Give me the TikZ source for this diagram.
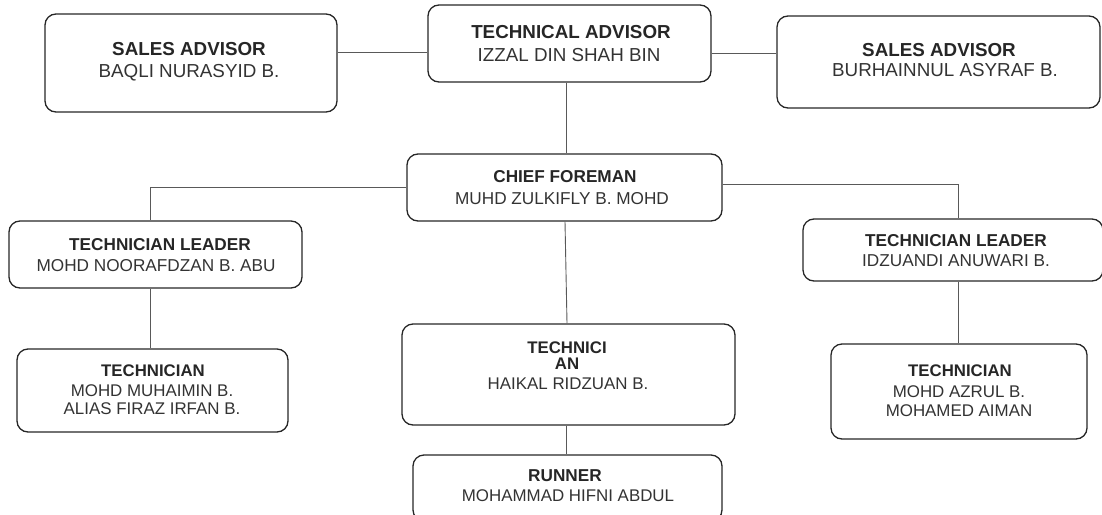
\documentclass[tikz,border=0pt]{standalone}
\usepackage{fontspec}
\setmainfont{Liberation Sans}
\begin{document}
\begin{tikzpicture}[x=1pt,y=-1pt,
  box/.style={draw=black!85, rounded corners=11pt, line width=1.3pt, inner sep=0pt},
  txt/.style={inner sep=0pt, text depth=0pt},
  ttlA/.style={txt, font=\bfseries\fontsize{18.8}{22}\selectfont, text height=13.5pt, text=black!85},
  nmA/.style={txt, font=\fontsize{18.8}{22}\selectfont, text height=13.5pt, text=black!80},
  ttlB/.style={txt, font=\bfseries\fontsize{17.2}{21}\selectfont, text height=12.3pt, text=black!85},
  nmB/.style={txt, font=\fontsize{17.2}{21}\selectfont, text height=12.3pt, text=black!80},
  ttlC/.style={txt, font=\bfseries\fontsize{16.8}{20}\selectfont, text height=12pt, text=black!85},
  nmC/.style={txt, font=\fontsize{16.9}{20}\selectfont, text height=12.1pt, text=black!80},
  conn/.style={draw=black!65, line width=0.9pt}]
\useasboundingbox (0,0) rectangle (1102,514);
% boxes
\node[box, minimum width=292pt, minimum height=98pt] (sl) at (191,63) {};
\node[box, minimum width=283pt, minimum height=77pt] (ta) at (569.5,43.5) {};
\node[box, minimum width=323pt, minimum height=92pt] (sr) at (938.5,62) {};
\node[box, minimum width=315pt, minimum height=67pt] (cf) at (564.5,187.5) {};
\node[box, minimum width=293pt, minimum height=67pt] (tll) at (155.5,254.5) {};
\node[box, minimum width=300pt, minimum height=62pt] (tlr) at (953,250) {};
\node[box, minimum width=271pt, minimum height=83pt] (tl) at (152.5,390.5) {};
\node[box, minimum width=333pt, minimum height=101pt] (tm) at (568.5,374.5) {};
\node[box, minimum width=309pt, minimum height=66pt] (ru) at (567.5,488) {};
\node[box, minimum width=256pt, minimum height=95pt] (tr) at (959,391.5) {};
% texts
\node[ttlA] (slt) at (189,49) {SALES ADVISOR};
\node[nmA]  (sln) at (189,71) {BAQLI NURASYID B.};
\node[ttlA] (tat) at (571,32) {TECHNICAL ADVISOR};
\node[nmA]  (tan) at (569,55) {IZZAL DIN SHAH BIN};
\node[ttlA] (srt) at (939,50) {SALES ADVISOR};
\node[nmA]  (srn) at (945,70) {BURHAINNUL ASYRAF B.};
\node[ttlB] (cft) at (565,176) {CHIEF FOREMAN};
\node[nmB]  (cfn) at (562,198) {MUHD ZULKIFLY B. MOHD};
\node[ttlB] (tllt) at (160,244) {TECHNICIAN LEADER};
\node[nmB]  (tlln) at (156,265) {MOHD NOORAFDZAN B. ABU};
\node[ttlB] (tlrt) at (956,240) {TECHNICIAN LEADER};
\node[nmB]  (tlrn) at (956,260) {IDZUANDI ANUWARI B.};
\node[ttlC] (tlt) at (153,370) {TECHNICIAN};
\node[nmC]  (tln1) at (152,390) {MOHD MUHAIMIN B.};
\node[nmC]  (tln2) at (152,408) {ALIAS FIRAZ IRFAN B.};
\node[ttlC] (tmt1) at (567,347) {TECHNICI};
\node[ttlC] (tmt2) at (567,363) {AN};
\node[nmC]  (tmn) at (568,383) {HAIKAL RIDZUAN B.};
\node[ttlC] (trt) at (960,370) {TECHNICIAN};
\node[nmC]  (trn1) at (959,391) {MOHD AZRUL B.};
\node[nmC]  (trn2) at (959,410) {MOHAMED AIMAN};
\node[ttlB] (rut) at (565,475) {RUNNER};
\node[nmC]  (run) at (568,495) {MOHAMMAD HIFNI ABDUL};
% connectors
\draw[conn] (sl.east |- 0,52) -- (ta.west |- 0,52);
\draw[conn] (ta.east |- 0,53) -- (sr.west |- 0,53);
\draw[conn] (ta.south -| 566,0) -- (cf.north -| 566,0);
\draw[conn] (cf.west |- 0,187) -| (tll.north -| 150,0);
\draw[conn] (cf.east |- 0,184) -| (tlr.north -| 958,0);
\draw[conn] (cf.south -| 565,0) -- (tm.north -| 567,0);
\draw[conn] (tll.south -| 150,0) -- (tl.north -| 150,0);
\draw[conn] (tlr.south -| 958,0) -- (tr.north -| 958,0);
\draw[conn] (tm.south -| 566,0) -- (ru.north -| 566,0);
\end{tikzpicture}
\end{document}
